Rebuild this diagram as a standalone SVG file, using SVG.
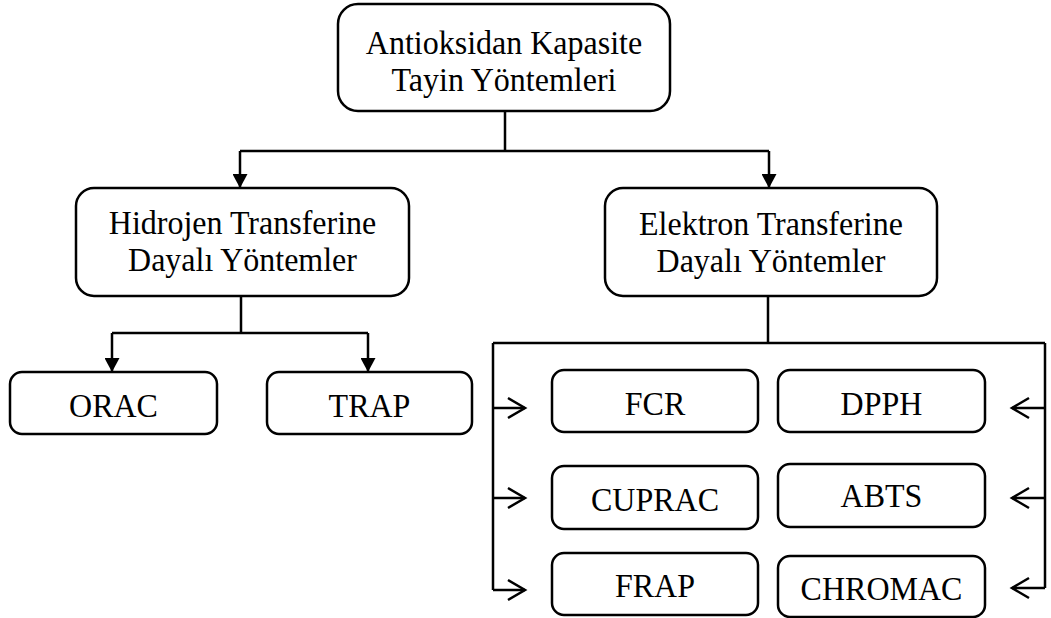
<svg xmlns="http://www.w3.org/2000/svg" width="1051" height="618" viewBox="0 0 1051 618">
<style>
.box{fill:#fff;stroke:#000;stroke-width:2.5}
.lbl{font-family:"Liberation Serif","Times New Roman",serif;font-size:32px;fill:#000;text-anchor:middle}
.con{fill:none;stroke:#000;stroke-width:2.5}
</style>
<defs>
<marker id="tri" viewBox="0 0 14 15" refX="14" refY="7.5" markerWidth="14" markerHeight="15" markerUnits="userSpaceOnUse" orient="auto">
<path d="M0,0 L14,7.5 L0,15 Z" fill="#000"/>
</marker>
<marker id="open" viewBox="0 0 20 24" refX="18" refY="12" markerWidth="20" markerHeight="24" markerUnits="userSpaceOnUse" orient="auto" overflow="visible">
<path d="M1,2 L18,12 L1,22" fill="none" stroke="#000" stroke-width="2.5"/>
</marker>
</defs>
<rect width="1051" height="618" fill="#fff"/>
<g id="connectors">
<path class="con" d="M505,111 V151 M240,151 H769"/>
<path class="con" d="M240,151 V188" marker-end="url(#tri)"/>
<path class="con" d="M769,151 V188" marker-end="url(#tri)"/>
<path class="con" d="M241,296 V333 M112,333 H368"/>
<path class="con" d="M112,333 V372" marker-end="url(#tri)"/>
<path class="con" d="M368,333 V372" marker-end="url(#tri)"/>
<path class="con" d="M768,296 V343 M493,343 H1045 M493,343 V590 M1045,343 V588"/>
<path class="con" d="M493,408 H525" marker-end="url(#open)"/>
<path class="con" d="M493,498 H525" marker-end="url(#open)"/>
<path class="con" d="M493,590 H525" marker-end="url(#open)"/>
<path class="con" d="M1045,408 H1012" marker-end="url(#open)"/>
<path class="con" d="M1045,498 H1012" marker-end="url(#open)"/>
<path class="con" d="M1045,588 H1012" marker-end="url(#open)"/>
</g>
<g id="root">
<rect class="box" x="338" y="4" width="332" height="107" rx="20"/>
<text class="lbl" transform="translate(504,54) scale(1,1.08)">Antioksidan Kapasite</text>
<text class="lbl" transform="translate(504,91) scale(1,1.08)">Tayin Yöntemleri</text>
</g>
<g id="hidrojen">
<rect class="box" x="76" y="188" width="333" height="108" rx="18"/>
<text class="lbl" transform="translate(242.5,234) scale(1,1.08)">Hidrojen Transferine</text>
<text class="lbl" transform="translate(242.5,271) scale(1,1.08)">Dayalı Yöntemler</text>
</g>
<g id="elektron">
<rect class="box" x="605" y="188" width="332" height="108" rx="18"/>
<text class="lbl" transform="translate(771,235) scale(1,1.08)">Elektron Transferine</text>
<text class="lbl" transform="translate(771,272) scale(1,1.08)">Dayalı Yöntemler</text>
</g>
<g id="orac">
<rect class="box" x="10" y="372" width="207" height="62" rx="12"/>
<text class="lbl" transform="translate(113.5,417) scale(1,1.08)">ORAC</text>
</g>
<g id="trap">
<rect class="box" x="267" y="372" width="205" height="62" rx="12"/>
<text class="lbl" transform="translate(369.5,417) scale(1,1.08)">TRAP</text>
</g>
<g id="fcr">
<rect class="box" x="552" y="370" width="206" height="62" rx="12"/>
<text class="lbl" transform="translate(655,415) scale(1,1.08)">FCR</text>
</g>
<g id="dpph">
<rect class="box" x="778" y="370" width="207" height="62" rx="12"/>
<text class="lbl" transform="translate(881.5,415) scale(1,1.08)">DPPH</text>
</g>
<g id="cuprac">
<rect class="box" x="552" y="466" width="206" height="63" rx="12"/>
<text class="lbl" transform="translate(655,511) scale(1,1.08)">CUPRAC</text>
</g>
<g id="abts">
<rect class="box" x="778" y="464" width="207" height="63" rx="12"/>
<text class="lbl" transform="translate(881.5,507) scale(1,1.08)">ABTS</text>
</g>
<g id="frap">
<rect class="box" x="552" y="553" width="206" height="62" rx="12"/>
<text class="lbl" transform="translate(655,597) scale(1,1.08)">FRAP</text>
</g>
<g id="chromac">
<rect class="box" x="778" y="556" width="207" height="61" rx="12"/>
<text class="lbl" transform="translate(881.5,600) scale(1,1.08)">CHROMAC</text>
</g>
</svg>
